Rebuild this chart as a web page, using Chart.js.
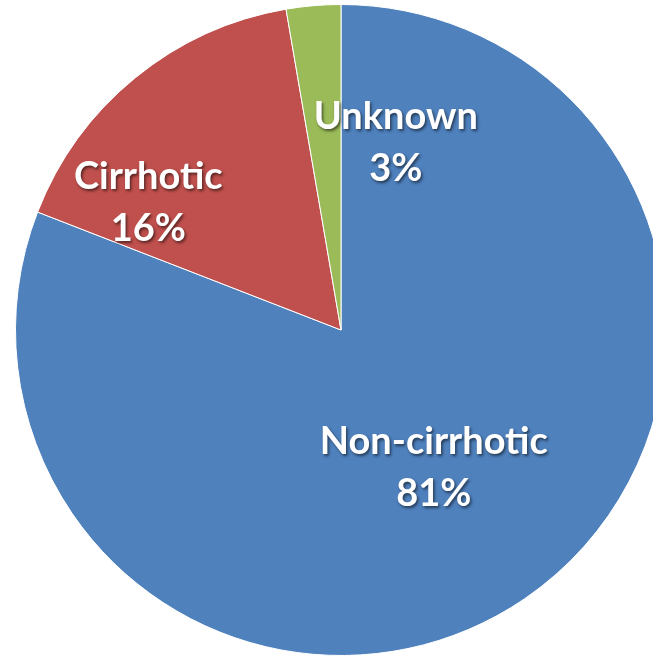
<!DOCTYPE html>
<html>
<head>
<meta charset="utf-8">
<script src="https://cdn.jsdelivr.net/npm/chart.js@4.4.1/dist/chart.umd.min.js"></script>
<style>
  html, body { margin: 0; padding: 0; background: #fff; overflow: hidden; }
  #wrap { position: relative; width: 682px; height: 657px; }
</style>
</head>
<body>
<div id="wrap"><canvas id="pie-chart"></canvas></div>
<script>
var categories = ['Non-cirrhotic', 'Cirrhotic', 'Unknown'];
var shares = [80.9, 16.4, 2.7];
var percentLabels = ['81%', '16%', '3%'];
var sliceColors = ['#4F81BD', '#C0504D', '#9BBB59'];

// where each label sits: angle from top (deg, clockwise) and fraction of radius
var labelSpots = [
  { angle: 146, dist: 0.51 },
  { angle: 303.5, dist: 0.71 },
  { angle: 16.3, dist: 0.60 }
];

var pieLabels = {
  id: 'pieLabels',
  afterDatasetsDraw: function (chart) {
    var ctx = chart.ctx;
    var arcs = chart.getDatasetMeta(0).data;
    ctx.save();
    ctx.font = 'bold 38px Lato';
    ctx.textAlign = 'center';
    ctx.textBaseline = 'middle';
    arcs.forEach(function (arc, i) {
      var spot = labelSpots[i];
      var a = spot.angle * Math.PI / 180;
      var r = arc.outerRadius * spot.dist;
      var x = arc.x + Math.sin(a) * r;
      var y = arc.y - Math.cos(a) * r;
      ctx.shadowColor = 'rgba(0,0,0,0.55)';
      ctx.shadowBlur = 3;
      ctx.shadowOffsetX = 1.5;
      ctx.shadowOffsetY = 2;
      ctx.fillStyle = '#ffffff';
      ctx.fillText(chart.data.labels[i], x, y - 26);
      ctx.fillText(percentLabels[i], x, y + 26);
    });
    ctx.restore();
  }
};

var ctx = document.getElementById('pie-chart').getContext('2d');
var myChart = new Chart(ctx, {
  type: 'pie',
  data: {
    labels: categories,
    datasets: [{
      data: shares,
      backgroundColor: sliceColors,
      borderColor: '#ffffff',
      borderWidth: 1
    }]
  },
  options: {
    responsive: true,
    maintainAspectRatio: false,
    animation: false,
    layout: { padding: { top: 4, bottom: 1, left: 15, right: 15 } },
    plugins: {
      legend: { display: false },
      tooltip: { enabled: false }
    }
  },
  plugins: [pieLabels]
});
</script>
</body>
</html>
